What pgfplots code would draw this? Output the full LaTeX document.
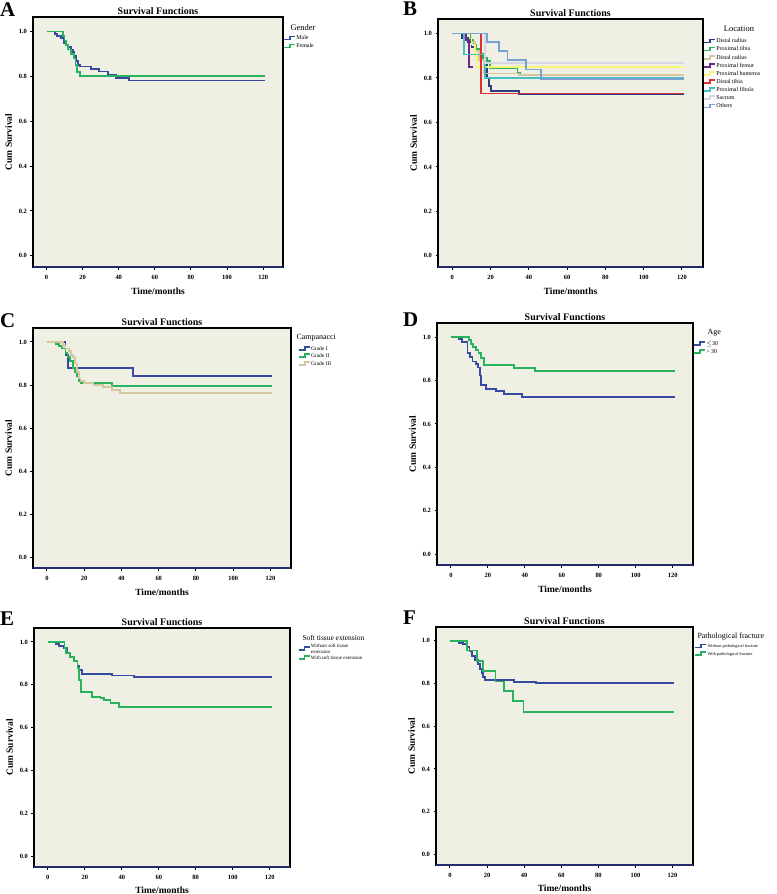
\documentclass[border=0pt]{standalone}
\usepackage{pgfplots}
\pgfplotsset{compat=1.18}
\usepackage{fontspec}
\setmainfont{Liberation Serif}
\definecolor{bg}{RGB}{239,239,227}
\definecolor{kmblue}{RGB}{55,75,160}
\definecolor{kmnavy}{RGB}{35,45,110}
\definecolor{kmgreen}{RGB}{40,180,95}
\definecolor{kmtan}{RGB}{212,198,158}
\definecolor{kmpurple}{RGB}{110,40,130}
\definecolor{kmyellow}{RGB}{248,245,120}
\definecolor{kmred}{RGB}{220,50,50}
\definecolor{kmteal}{RGB}{70,190,195}
\definecolor{kmlav}{RGB}{214,214,230}
\definecolor{kmlblue}{RGB}{120,160,212}
\pgfplotsset{
  km/.style={
    scale only axis, anchor=north west,
    xmin=-7.5, xmax=131, ymin=-0.05, ymax=1.065,
    xtick={0,20,40,60,80,100,120},
    ytick={0,0.2,0.4,0.6,0.8,1.0},
    yticklabel style={/pgf/number format/fixed,/pgf/number format/precision=1,/pgf/number format/fixed zerofill},
    /pgf/number format/assume math mode=true,
    tick label style={font=\fontsize{6.5}{7}\selectfont\bfseries},
    xticklabel style={yshift=-2bp},
    title={Survival Functions},
    title style={font=\fontsize{10}{11}\selectfont\bfseries, inner sep=1.5bp, yshift=-5bp},
    xlabel={Time/months}, ylabel={Cum Survival},
    label style={font=\fontsize{9.5}{11}\selectfont\bfseries},
    xlabel style={yshift=-2bp},
    axis background/.style={fill=bg},
    axis line style={line width=1.5bp},
    after end axis/.code={\draw[kmnavy, line width=1.5bp] (rel axis cs:0,0) -- (rel axis cs:1,0);},
    tick align=outside, major tick length=2.5bp,
    tick style={line width=1bp, black},
    xtick pos=left, ytick pos=left,
    legend cell align=left,
    legend style={draw=none, fill=none, font=\fontsize{6}{7}\selectfont, at={(rel axis cs:1,0.93)}, anchor=north west, row sep=1.5bp, inner sep=0pt,
      nodes={inner sep=0.5bp, text height=4.5bp, text depth=1bp}},
    legend image code/.code={\draw[#1, line width=1.6bp] (0bp,-1.5bp) -- (6bp,-1.5bp) -- (6bp,1.5bp) -- (11bp,1.5bp);},
    every axis plot/.append style={const plot, line width=1.8bp, mark=none},
  }
}
\begin{document}
\begin{tikzpicture}
\path[use as bounding box] (0,0) rectangle (777bp,-894bp);
% ---------------- A
\begin{axis}[km, at={(33bp,-17bp)}, width=250bp, height=250bp]
\addplot[kmblue] coordinates {(0,1)(4.5,0.99)(6,0.98)(8,0.97)(9.5,0.95)(11,0.94)(12,0.93)(13.5,0.92)(14.5,0.91)(15.5,0.89)(16.5,0.87)(17.5,0.85)(18.5,0.844)(24.5,0.832)(29,0.822)(34,0.807)(38.5,0.792)(45.5,0.782)(121,0.782)};
\addlegendentry{Male}
\addplot[kmgreen] coordinates {(0,1)(9,0.98)(10,0.96)(11,0.94)(12,0.92)(13.5,0.90)(15,0.88)(16,0.85)(17,0.82)(18.5,0.802)(121,0.802)};
\addlegendentry{Female}
\end{axis}
\node[anchor=west, font=\fontsize{8.5}{9}\selectfont] at (287bp,-28bp) {Gender};
\node[anchor=north west, font=\fontsize{21}{21}\selectfont\bfseries, inner sep=0pt] at (0bp,-2bp) {A};
% ---------------- B
\begin{axis}[km, at={(438bp,-19bp)}, width=265bp, height=248bp, legend style={at={(rel axis cs:1,0.925)}, font=\fontsize{6}{6.5}\selectfont, row sep=1.6bp}]
\addplot[kmblue!80!black] coordinates {(0,1)(5,0.98)(8,0.96)(10,0.94)(12,0.92)(14,0.90)(17,0.88)(18,0.80)(19,0.763)(20,0.742)(35,0.727)(121,0.727)};
\addlegendentry{Distal radius}
\addplot[kmgreen] coordinates {(0,1)(9.5,0.97)(11,0.95)(12.5,0.93)(14,0.91)(16,0.89)(18.3,0.875)(19.5,0.845)(34,0.822)(35.5,0.813)(121,0.813)};
\addlegendentry{Proximal tibia}
\addplot[kmtan] coordinates {(0,1)(10,0.96)(12,0.92)(14,0.88)(16.5,0.82)(35,0.812)(121,0.812)};
\addlegendentry{Distal radius}
\addplot[kmpurple] coordinates {(0,1)(7,0.97)(8.5,0.85)(11,0.85)};
\addlegendentry{Proximal femur}
\addplot[kmyellow] coordinates {(0,1)(10,0.95)(12,0.90)(13,0.85)(121,0.85)};
\addlegendentry{Proximal humerus}
\addplot[kmred] coordinates {(0,1)(15,0.73)(121,0.73)};
\addlegendentry{Distal tibia}
\addplot[kmteal] coordinates {(0,1)(6,0.905)(17,0.80)(121,0.80)};
\addlegendentry{Proximal fibula}
\addplot[kmlav] coordinates {(0,1)(17,0.867)(121,0.867)};
\addlegendentry{Sacrum}
\addplot[kmlblue] coordinates {(0,1)(18.3,0.961)(24.4,0.921)(28.8,0.879)(38.4,0.838)(46.2,0.795)(121,0.795)};
\addlegendentry{Others}
\end{axis}
\node[font=\fontsize{8.5}{9}\selectfont] at (739bp,-29bp) {Location};
\node[anchor=north west, font=\fontsize{21}{21}\selectfont\bfseries, inner sep=0pt] at (403bp,-2bp) {B};
% ---------------- C
\begin{axis}[km, at={(33bp,-328bp)}, width=258bp, height=240bp, legend style={at={(rel axis cs:1.026,0.93)}, font=\fontsize{5.5}{6}\selectfont, row sep=1bp}]
\addplot[kmblue] coordinates {(0,1)(10,0.94)(11.5,0.88)(46,0.842)(121,0.842)};
\addlegendentry{Grade I}
\addplot[kmgreen] coordinates {(0,1)(4.7,0.99)(6.5,0.98)(8,0.97)(10,0.95)(11,0.93)(12.5,0.91)(14,0.88)(15,0.86)(16,0.84)(17,0.82)(18,0.808)(34.8,0.796)(121,0.796)};
\addlegendentry{Grade II}
\addplot[kmtan] coordinates {(0,1)(8.6,0.98)(10,0.97)(12,0.96)(13,0.94)(14,0.93)(15,0.90)(16,0.86)(17,0.83)(18,0.82)(20,0.81)(25,0.80)(30,0.79)(35,0.777)(39,0.762)(121,0.762)};
\addlegendentry{Grade III}
\end{axis}
\node[anchor=west, font=\fontsize{8}{9}\selectfont] at (293bp,-338bp) {Campanacci};
\node[anchor=north west, font=\fontsize{21}{21}\selectfont\bfseries, inner sep=0pt] at (0bp,-313bp) {C};
% ---------------- D
\begin{axis}[km, at={(437bp,-323bp)}, width=256bp, height=242bp]
\addplot[kmblue] coordinates {(0,1)(4.5,0.99)(6,0.977)(9,0.926)(10.2,0.91)(11.7,0.888)(13.5,0.876)(14.7,0.86)(15.8,0.823)(16.5,0.78)(18.9,0.762)(24.3,0.751)(28.7,0.738)(38.6,0.723)(121,0.723)};
\addlegendentry{$\leq$30}
\addplot[kmgreen] coordinates {(0,1)(9.9,0.985)(11,0.97)(12,0.955)(13.5,0.94)(15,0.925)(16.5,0.905)(18,0.872)(34.1,0.857)(45.3,0.843)(121,0.843)};
\addlegendentry{> 30}
\end{axis}
\node[anchor=west, font=\fontsize{8}{9}\selectfont] at (704bp,-333bp) {Age};
\node[anchor=north west, font=\fontsize{21}{21}\selectfont\bfseries, inner sep=0pt] at (403bp,-313bp) {D};
% ---------------- E
\begin{axis}[km, at={(34bp,-628bp)}, width=256bp, height=239bp, xlabel style={yshift=1.5bp}, legend style={at={(rel axis cs:1.03,0.935)}, font=\fontsize{5}{5.5}\selectfont, nodes={align=left, text height=, text depth=}, row sep=1.5bp}]
\addplot[kmblue] coordinates {(0,1)(4.1,0.99)(6,0.98)(8.6,0.97)(10.5,0.95)(12,0.93)(14,0.91)(16,0.89)(17,0.87)(18.5,0.85)(34.8,0.843)(46.5,0.835)(121,0.835)};
\addlegendentry{Without soft tissue\\extension}
\addplot[kmgreen] coordinates {(0,1)(9,0.97)(10,0.95)(12,0.93)(14,0.91)(16,0.88)(17,0.822)(18,0.768)(24,0.745)(28.5,0.737)(30.3,0.731)(33.9,0.714)(38.7,0.696)(121,0.696)};
\addlegendentry{With soft tissue extension}
\end{axis}
\node[anchor=west, font=\fontsize{7.5}{9}\selectfont] at (299bp,-638bp) {Soft tissue extension};
\node[anchor=north west, font=\fontsize{21}{21}\selectfont\bfseries, inner sep=0pt] at (0bp,-612bp) {E};
% ---------------- F
\begin{axis}[km, at={(436bp,-627bp)}, width=257bp, height=238bp, xlabel style={yshift=1.5bp}, legend style={at={(rel axis cs:1.005,0.935)}, font=\fontsize{4.3}{5}\selectfont, row sep=1bp}]
\addplot[kmblue] coordinates {(0,1)(4.9,0.99)(7,0.985)(9.4,0.97)(10.5,0.95)(12,0.93)(13.5,0.91)(15,0.89)(16,0.87)(17,0.85)(18,0.83)(19,0.815)(34.5,0.809)(46.2,0.804)(121,0.804)};
\addlegendentry{Without pathological fracture}
\addplot[kmgreen] coordinates {(0,1)(9.4,0.955)(14.4,0.906)(18,0.858)(24.6,0.81)(29.1,0.764)(34.2,0.718)(39.6,0.667)(121,0.667)};
\addlegendentry{With pathological fracture}
\end{axis}
\node[anchor=west, font=\fontsize{8}{9}\selectfont] at (694bp,-637bp) {Pathological fracture};
\node[anchor=north west, font=\fontsize{21}{21}\selectfont\bfseries, inner sep=0pt] at (403bp,-611bp) {F};
\end{tikzpicture}
\end{document}
